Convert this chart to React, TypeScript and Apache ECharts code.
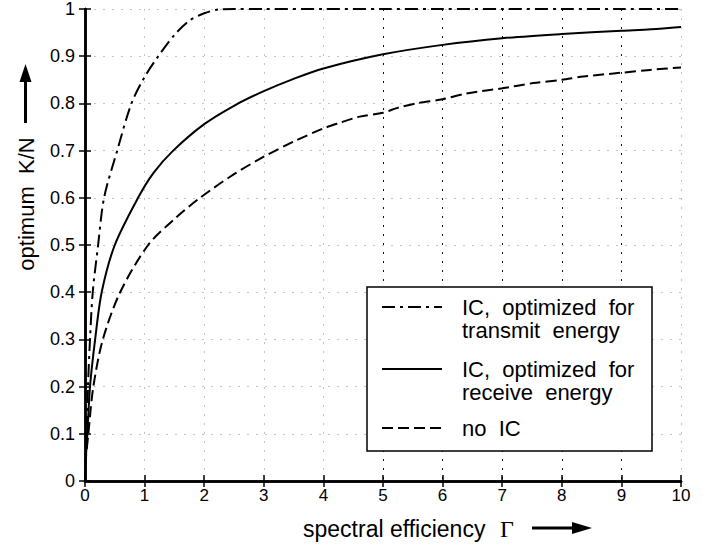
import React, { useEffect, useRef } from "react";
import * as echarts from "echarts";

// ---- data ----
const gammaTransmit = [0, 0.01, 0.03, 0.05, 0.084, 0.13, 0.22, 0.32, 0.54, 0.78, 1.0, 1.23, 1.5, 1.75, 2.0, 2.25, 2.5, 3, 4, 5, 6, 7, 8, 9, 10];
const kTransmit = [0, 0.05, 0.1, 0.2, 0.3, 0.4, 0.5, 0.6, 0.7, 0.8, 0.856, 0.9, 0.945, 0.975, 0.991, 0.999, 1.0, 1.0, 1.0, 1.0, 1.0, 1.0, 1.0, 1.0, 1.0];

const gammaReceive = [0, 0.01, 0.04, 0.084, 0.17, 0.28, 0.5, 0.89, 1.15, 1.48, 2, 2.5, 3, 3.5, 4, 5, 6, 7, 8, 9, 9.5, 10];
const kReceive = [0, 0.04, 0.1, 0.2, 0.3, 0.4, 0.5, 0.6, 0.653, 0.7, 0.756, 0.795, 0.826, 0.852, 0.874, 0.904, 0.924, 0.938, 0.947, 0.954, 0.957, 0.962];

const gammaNoIC = [0, 0.01, 0.056, 0.14, 0.3, 0.59, 1.06, 1.5, 1.93, 2.5, 3, 3.5, 4, 4.28, 4.61, 5, 5.23, 5.56, 6, 6.4, 7, 7.52, 8, 8.36, 9, 9.48, 10];
const kNoIC = [0, 0.04, 0.1, 0.2, 0.3, 0.4, 0.5, 0.555, 0.6, 0.65, 0.687, 0.719, 0.747, 0.759, 0.772, 0.78, 0.79, 0.8, 0.809, 0.821, 0.832, 0.843, 0.85, 0.857, 0.865, 0.871, 0.876];

const xTicks = [0, 1, 2, 3, 4, 5, 6, 7, 8, 9, 10];
const yTicks = [0, 0.1, 0.2, 0.3, 0.4, 0.5, 0.6, 0.7, 0.8, 0.9, 1];

const legendRows = [
  { name: "IC, optimized for transmit energy", lines: ["IC,  optimized  for", "transmit  energy"], dash: [13, 5, 3, 5] as any },
  { name: "IC, optimized for receive energy", lines: ["IC,  optimized  for", "receive  energy"], dash: "solid" as any },
  { name: "no IC", lines: ["no  IC"], dash: [11, 5] as any },
];

const FONT = "Liberation Sans, Arial, sans-serif";

function pairs(xs: number[], ys: number[]) {
  return xs.map((x, i) => [x, ys[i]]);
}

export default function App() {
  const ref = useRef<HTMLDivElement>(null);
  useEffect(() => {
    if (!ref.current) return;
    const chart = echarts.init(ref.current, undefined, { renderer: "svg" });
    const light = "#c4c4c4";
    const dark = "#111111";
    const xSplitColors = xTicks.map((v) => (v >= 5 && v <= 9 ? dark : light));

    const seriesDefs = [
      { name: legendRows[0].name, data: pairs(gammaTransmit, kTransmit), type: legendRows[0].dash },
      { name: legendRows[1].name, data: pairs(gammaReceive, kReceive), type: legendRows[1].dash },
      { name: legendRows[2].name, data: pairs(gammaNoIC, kNoIC), type: legendRows[2].dash },
    ];

    const rows = [
      { lineY: 307, texts: [307, 330] },
      { lineY: 369, texts: [369, 392] },
      { lineY: 428, texts: [428] },
    ];
    const legendGraphics: any[] = [
      {
        type: "rect",
        z: 100,
        shape: { x: 367, y: 287, width: 285, height: 164 },
        style: { fill: "#fff", stroke: "#000", lineWidth: 1.5 },
      },
    ];
    legendRows.forEach((r, i) => {
      legendGraphics.push({
        type: "line",
        z: 101,
        shape: { x1: 382, y1: rows[i].lineY, x2: 442, y2: rows[i].lineY },
        style: { stroke: "#000", lineWidth: 2, lineDash: r.dash === "solid" ? null : r.dash },
      });
      r.lines.forEach((t, j) => {
        legendGraphics.push({
          type: "text",
          z: 101,
          x: 462,
          y: rows[i].texts[j],
          style: { text: t, fill: "#000", font: `22px ${FONT}`, textAlign: "left", textVerticalAlign: "middle" },
        });
      });
    });

    const titleGraphics: any[] = [
      {
        type: "text",
        z: 101,
        x: 26,
        y: 204,
        rotation: Math.PI / 2,
        style: { text: "optimum  K/N", fill: "#000", font: `22px ${FONT}`, textAlign: "center", textVerticalAlign: "middle" },
      },
      { type: "line", z: 101, shape: { x1: 25.5, y1: 123, x2: 25.5, y2: 80 }, style: { stroke: "#000", lineWidth: 3 } },
      { type: "polygon", z: 101, shape: { points: [[19.5, 82], [31.5, 82], [25.5, 64]] }, style: { fill: "#000" } },
      {
        type: "text",
        z: 101,
        x: 303,
        y: 529,
        style: { text: "spectral efficiency", fill: "#000", font: `23px ${FONT}`, textAlign: "left", textVerticalAlign: "middle" },
      },
      {
        type: "text",
        z: 101,
        x: 500,
        y: 529,
        style: { text: "Γ", fill: "#000", font: `24px Liberation Serif, serif`, textAlign: "left", textVerticalAlign: "middle" },
      },
      { type: "line", z: 101, shape: { x1: 532, y1: 528, x2: 575, y2: 528 }, style: { stroke: "#000", lineWidth: 3 } },
      { type: "polygon", z: 101, shape: { points: [[572, 522], [572, 534], [592, 528]] }, style: { fill: "#000" } },
    ];

    const axisCommon = {
      axisLine: { show: true, lineStyle: { color: "#000", width: 2.5 } },
      axisTick: { show: true, inside: true, length: 6, lineStyle: { color: "#000", width: 1.5 } },
    };

    chart.setOption({
      animation: false,
      backgroundColor: "#fff",
      grid: { left: 85, right: 26, top: 9, bottom: 64, containLabel: false },
      xAxis: [
        {
          type: "value",
          min: xTicks[0],
          max: xTicks[xTicks.length - 1],
          interval: 1,
          position: "bottom",
          ...axisCommon,
          axisLabel: { color: "#000", fontSize: 17, fontFamily: FONT, margin: 6 },
          splitLine: { show: true, lineStyle: { color: xSplitColors, width: 1, type: [2, 7] } },
        },
        {
          type: "value",
          min: xTicks[0],
          max: xTicks[xTicks.length - 1],
          interval: 1,
          position: "top",
          ...axisCommon,
          axisLabel: { show: false },
          splitLine: { show: false },
        },
      ],
      yAxis: [
        {
          type: "value",
          min: yTicks[0],
          max: yTicks[yTicks.length - 1],
          interval: 0.1,
          position: "left",
          ...axisCommon,
          axisLabel: {
            color: "#000",
            fontSize: 18,
            fontFamily: FONT,
            margin: 10,
            formatter: (v: number) => (v === 0 ? "0" : v === 1 ? "1" : v.toFixed(1)),
          },
          splitLine: { show: true, lineStyle: { color: light, width: 1, type: [2, 7] } },
        },
        {
          type: "value",
          min: yTicks[0],
          max: yTicks[yTicks.length - 1],
          interval: 0.1,
          position: "right",
          ...axisCommon,
          axisLabel: { show: false },
          splitLine: { show: false },
        },
      ],
      series: seriesDefs.map((s) => ({
        name: s.name,
        type: "line",
        xAxisIndex: 0,
        yAxisIndex: 0,
        data: s.data,
        showSymbol: false,
        smooth: 0.3,
        lineStyle: { color: "#000", width: 2, type: s.type },
        z: 5,
      })),
      graphic: [...legendGraphics, ...titleGraphics],
    });
    return () => chart.dispose();
  }, []);
  return <div ref={ref} style={{ position: "fixed", left: 0, top: 0, width: 707, height: 545 }} />;
}
